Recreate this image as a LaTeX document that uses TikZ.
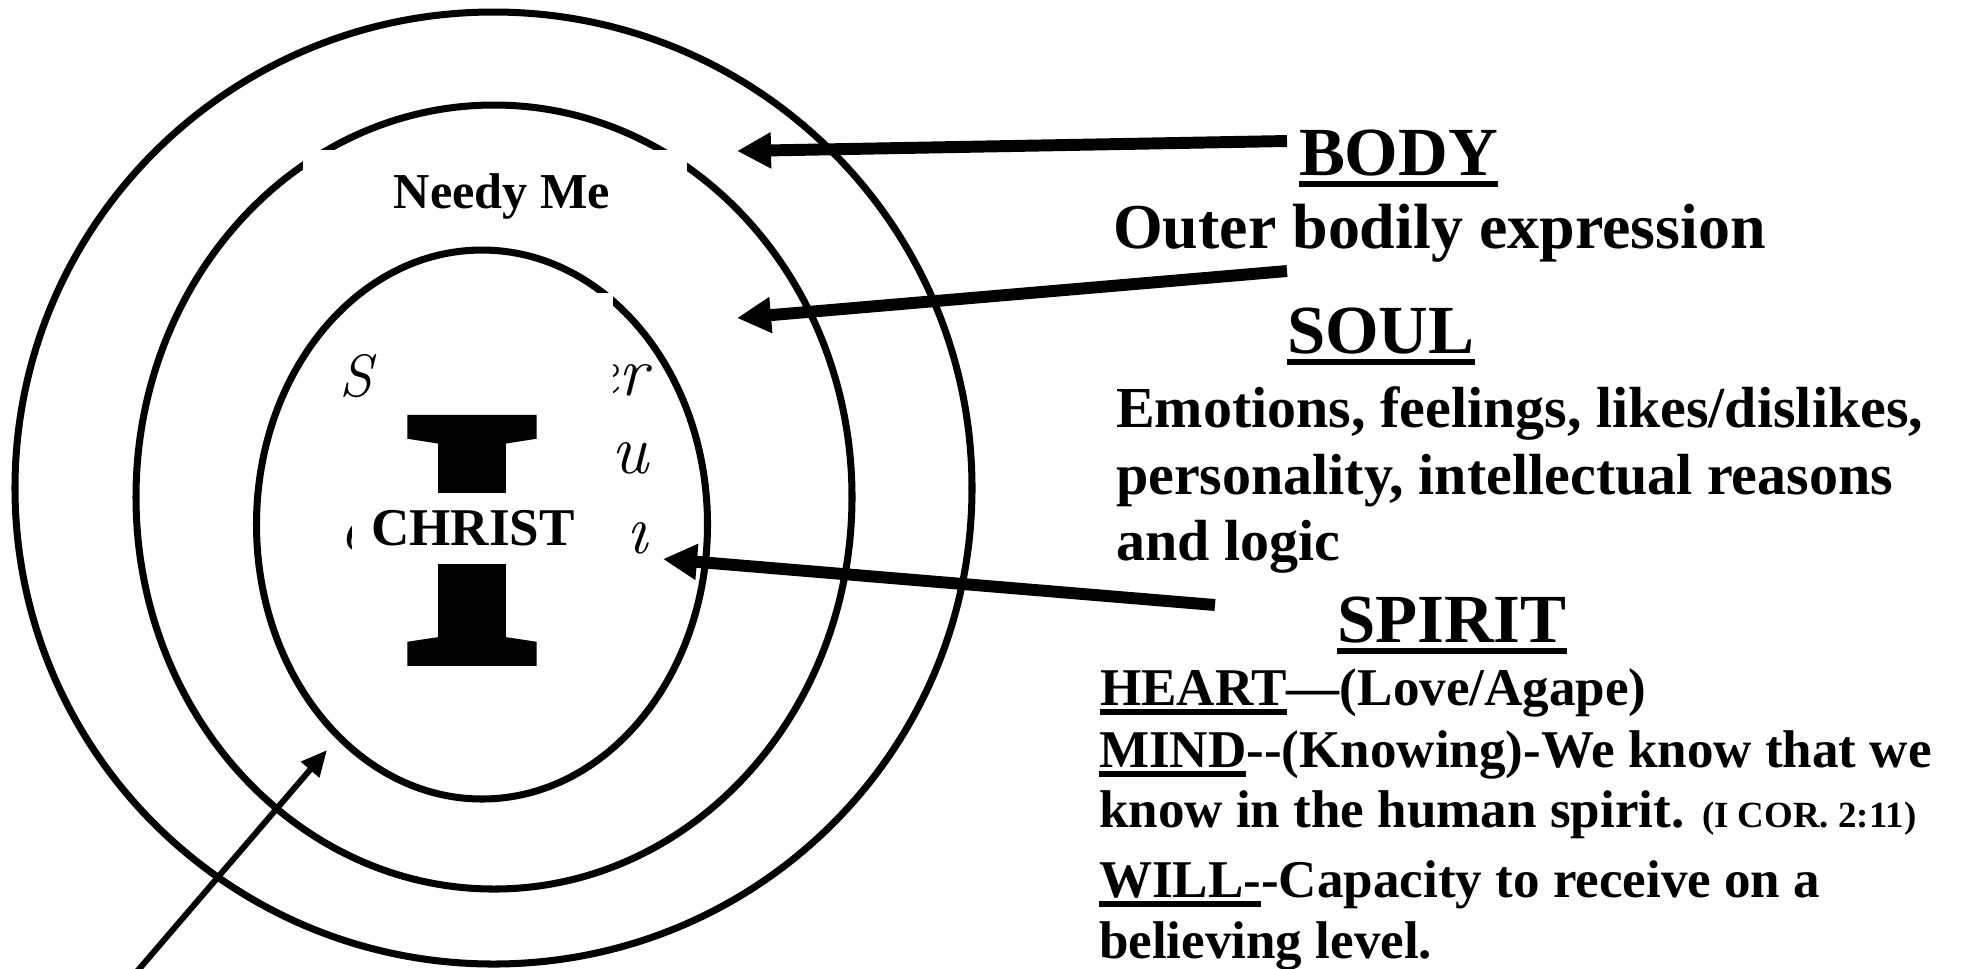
\documentclass[tikz,border=0pt]{standalone}
\usepackage{fontspec}
\newfontfamily\tnr{Liberation Serif}
\newfontfamily\bigIfont[FakeBold=3.2]{Liberation Serif Bold}
\usetikzlibrary{arrows.meta,positioning,calc}

\newcommand{\headfont}{\tnr\bfseries\fontsize{19.6pt}{23pt}\selectfont}
\newcommand{\outerfont}{\tnr\bfseries\fontsize{18.2pt}{22pt}\selectfont}
\newcommand{\soulfont}{\tnr\bfseries\fontsize{16.5pt}{19pt}\selectfont}
\newcommand{\spiritfont}{\tnr\bfseries\fontsize{15.1pt}{18pt}\selectfont}
\newcommand{\corfont}{\fontsize{10.5pt}{12pt}\selectfont}
\newcommand{\scriptbits}{\itshape\fontsize{20pt}{24pt}\selectfont}

\newlength\ulwidth
\newcommand{\thickul}[2][3.3pt]{\settowidth{\ulwidth}{#2}\makebox[0pt][l]{\rule[-#1]{\ulwidth}{1.7pt}}#2}

\begin{document}
\begin{tikzpicture}[
  x=0.1mm, y=-0.1mm,
  every node/.style={inner sep=0pt, outer sep=0pt},
  ring/.style={draw, line width=2pt},
  mask/.style={fill=white},
  pointer/.style={line width=3.4pt, -{Triangle[length=3.4mm, width=3.4mm]}},
  thinpointer/.style={line width=1.7pt, -{Triangle[length=2.6mm, width=2.3mm]}},
  heading/.style={anchor=base west, font=\headfont},
  outerdesc/.style={anchor=base west, font=\outerfont},
  souldesc/.style={anchor=base west, font=\soulfont},
  spiritdesc/.style={anchor=base west, font=\spiritfont}
]
\useasboundingbox (0,0) rectangle (1965,968);

% the three rings
\draw[ring] (493.5,488) ellipse [x radius=47.85mm, y radius=47.6mm];
\draw[ring] (494,497) ellipse [x radius=35.8mm, y radius=39.2mm];
\draw[ring] (482,524.5) ellipse [x radius=22.55mm, y radius=27.45mm];

% what is left of the hidden writing
\node[font=\itshape\fontsize{17pt}{20pt}\selectfont] (hidS) at (356,376) {S};
\node[anchor=base east, font=\scriptbits] (hidr) at (648,395) {er};
\node[anchor=base east, font=\scriptbits] (hidu) at (648,473) {nu};
\node[anchor=base east, font=\scriptbits] (hidi) at (648,553) {\i};
\node[anchor=base west, font=\scriptbits] (hidc) at (339,550) {c};

% the big I with CHRIST over it
\fill[mask] (378,293) rectangle (613,690);
\node[anchor=base] (bigI) at (472,660) {\bigIfont\fontsize{104pt}{112pt}\selectfont I};
\node[mask, minimum width=24.2mm, minimum height=7.1mm, font=\spiritfont] (christ) at (473,528) {CHRIST};

\fill[mask] (303,150) rectangle (687,242);
\node[anchor=base, font=\tnr\bfseries\fontsize{14.3pt}{17pt}\selectfont] (needy) at (502,208) {Needy Me};

% labels on the right
\node[heading] (body) at (1299,175) {\thickul{BODY}};
\node[outerdesc] (bodydesc) at (1113,248) {Outer bodily expression};
\node[heading] (soul) at (1287,353) {\thickul{SOUL}};
\node[souldesc] (soul1) at (1116,427) {Emotions, feelings, likes/dislikes,};
\node[souldesc] (soul2) at (1116,494) {personality, intellectual reasons};
\node[souldesc] (soul3) at (1116,560) {and logic};
\node[heading] (spirit) at (1337,642) {\thickul{SPIRIT}};
\node[spiritdesc] (heart) at (1100,705) {\thickul[2.85pt]{HEART}—(Love/Agape)};
\node[spiritdesc] (mind) at (1099,767) {\thickul[2.85pt]{MIND}-{}-(Knowing)-We know that we};
\node[spiritdesc] (mind2) at (1099,827) {know in the human spirit. {\corfont(I COR. 2:11)}};
\node[spiritdesc] (will) at (1099,897) {\thickul[2.85pt]{WILL-}-Capacity to receive on a};
\node[spiritdesc] (will2) at (1099,958) {believing level.};

% arrows
\coordinate (bodytail) at (1287,141);
\coordinate (bodytip) at (737,151);
\coordinate (soultail) at (1287,271);
\coordinate (soultip) at (737,318);
\coordinate (spirittail) at (1215,605);
\coordinate (spirittip) at (663,559);
\coordinate (metail) at (134,975);
\coordinate (metip) at (327,750);
\draw[pointer] (bodytail) -- (bodytip);
\draw[pointer] (soultail) -- (soultip);
\draw[pointer] (spirittail) -- (spirittip);
\draw[thinpointer] (metail) -- (metip);
\end{tikzpicture}
\end{document}
